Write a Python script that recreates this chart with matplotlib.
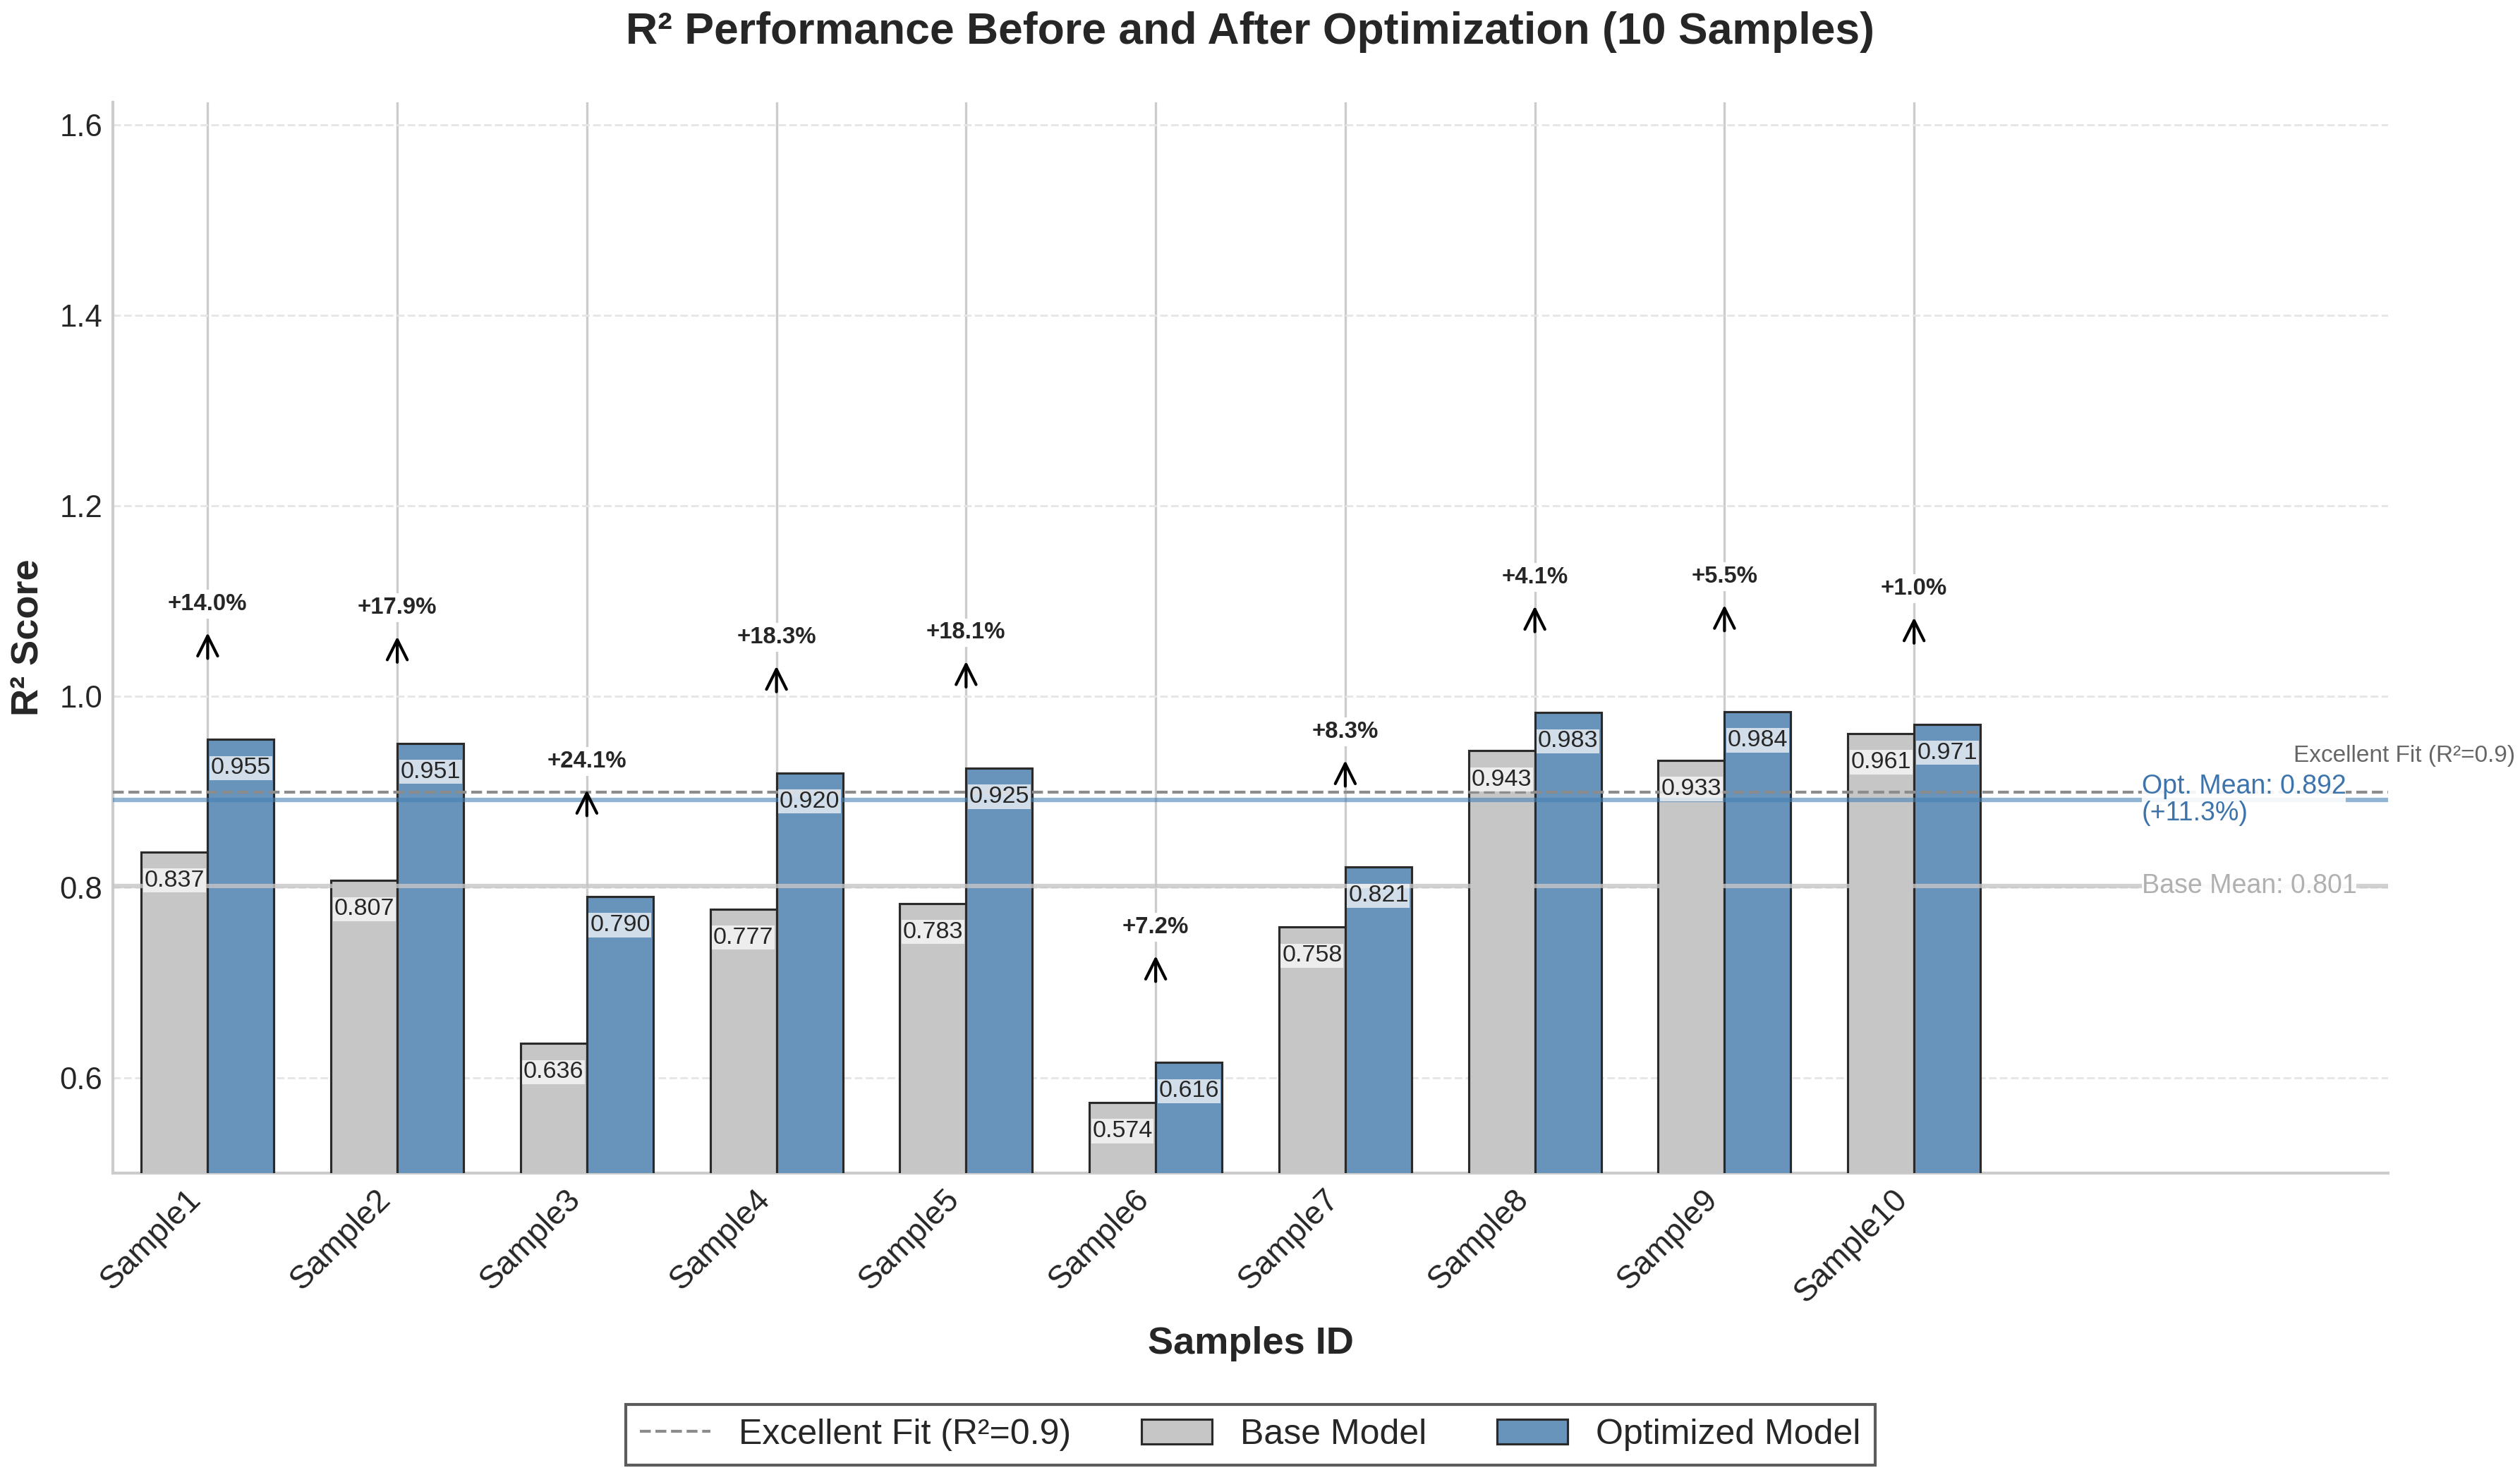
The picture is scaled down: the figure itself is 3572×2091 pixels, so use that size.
import matplotlib
matplotlib.use("Agg")
import matplotlib.pyplot as plt
import matplotlib.patches as mp
from matplotlib.lines import Line2D
import numpy as np

INK = "#262626"; GRID = "#cccccc"
BASE_C = "#c6c6c6"; OPT_C = "#6893bb"; EDGE = "#2a2a2a"
plt.rcParams.update({"font.family": ["Liberation Sans", "DejaVu Sans"],
                     "text.color": INK, "xtick.color": INK, "ytick.color": INK,
                     "axes.labelcolor": INK})

samples = ["Sample1", "Sample2", "Sample3", "Sample4", "Sample5",
           "Sample6", "Sample7", "Sample8", "Sample9", "Sample10"]
base_r2 = [0.837, 0.807, 0.636, 0.777, 0.783, 0.574, 0.758, 0.943, 0.933, 0.961]
opt_r2 = [0.955, 0.951, 0.790, 0.920, 0.925, 0.616, 0.821, 0.983, 0.984, 0.971]
improve_pct = [14.0, 17.9, 24.1, 18.3, 18.1, 7.2, 8.3, 4.1, 5.5, 1.0]
excellent = 0.9

base_mean = np.mean(base_r2)
opt_mean = np.mean(opt_r2)
mean_gain = (opt_mean / base_mean - 1) * 100

fig = plt.figure(figsize=(3572 / 300, 2091 / 300), dpi=300)
ax = fig.add_axes([0.04479, 0.2047, 0.90286, 0.72597])

x = np.arange(len(samples))
w = 0.35
ax.bar(x - w / 2, base_r2, w, color=BASE_C, edgecolor=EDGE, linewidth=0.75,
       label="Base Model", zorder=3)
ax.bar(x + w / 2, opt_r2, w, color=OPT_C, edgecolor=EDGE, linewidth=0.75,
       label="Optimized Model", zorder=3)

# value labels inside bar tops
for xi, b, o in zip(x, base_r2, opt_r2):
    for xx, v in ((xi - w / 2, b), (xi + w / 2, o)):
        ax.text(xx, v - 0.03, f"{v:.3f}", ha="center", va="center", fontsize=8.2,
                color=INK, zorder=5,
                bbox=dict(boxstyle="square,pad=0.05", fc="white", ec="none", alpha=0.7))

# improvement arrows
for xi, o, p in zip(x, opt_r2, improve_pct):
    ax.annotate("", xy=(xi, o + 0.112), xytext=(xi, o + 0.085),
                arrowprops=dict(arrowstyle="->", lw=1.0, color="black",
                                shrinkA=0, shrinkB=0, mutation_scale=17), zorder=5)
    ax.text(xi, o + 0.142, f"+{p:.1f}%", ha="center", va="center", fontsize=7.9,
            fontweight="bold", color=INK, zorder=5,
            bbox=dict(boxstyle="square,pad=0.15", fc="white", ec="none"))

# reference + mean lines
ax.axhline(excellent, color="#8c8c8c", ls="--", lw=1.0, zorder=4,
           label="Excellent Fit (R²=0.9)")
ax.axhline(opt_mean, color="#4682B4", alpha=0.6, lw=1.5, zorder=4)
ax.axhline(base_mean, color=BASE_C, alpha=0.8, lw=1.5, zorder=4)
ax.text(len(samples) + 0.2, opt_mean, f"Opt. Mean: {opt_mean:.3f}\n(+{mean_gain:.1f}%)",
        ha="left", va="center", fontsize=9, color="#3d74ab", linespacing=1.1, zorder=6,
        bbox=dict(boxstyle="square,pad=0", fc="white", ec="none", alpha=0.9))
ax.text(len(samples) + 0.2, base_mean, f"Base Mean: {base_mean:.3f}",
        ha="left", va="center", fontsize=9, color="#b0b0b0", zorder=6,
        bbox=dict(boxstyle="square,pad=0", fc="white", ec="none", alpha=0.9))
ax.text(len(samples) + 1.0, 0.938, "Excellent Fit (R²=0.9)", ha="left", va="center",
        fontsize=8, color="#666666", clip_on=False)

ax.set_xlim(-0.5, 11.5)
ax.set_ylim(0.5, max(opt_r2) * 1.65)
ax.set_xticks(x)
ax.set_xticklabels(samples, rotation=45, ha="right", fontsize=11)
ax.set_yticks([0.6, 0.8, 1.0, 1.2, 1.4, 1.6])
ax.set_yticklabels(["0.6", "0.8", "1.0", "1.2", "1.4", "1.6"], fontsize=10.5)
ax.tick_params(length=0, pad=3.5)

ax.grid(axis="x", color=GRID, lw=0.8, zorder=0)
ax.grid(axis="y", color="#e6e6e6", lw=0.7, ls="--", zorder=0)
ax.set_axisbelow(True)
for s in ["top", "right"]:
    ax.spines[s].set_visible(False)
for s in ["left", "bottom"]:
    ax.spines[s].set_color(GRID); ax.spines[s].set_linewidth(1.0)

ax.set_title("R² Performance Before and After Optimization (10 Samples)",
             fontsize=15, fontweight="bold", pad=20)
ax.set_ylabel("R² Score", fontsize=13, fontweight="bold", labelpad=4.5)
ax.set_xlabel("Samples ID", fontsize=13, fontweight="bold", labelpad=6)

handles = [Line2D([0], [0], color="#8c8c8c", ls="--", lw=1.0),
           mp.Patch(fc=BASE_C, ec=EDGE, lw=0.75),
           mp.Patch(fc=OPT_C, ec=EDGE, lw=0.75)]
labels = ["Excellent Fit (R²=0.9)", "Base Model", "Optimized Model"]
leg = ax.legend(handles, labels, loc="upper center", bbox_to_anchor=(0.5, -0.216),
                ncol=3, fontsize=12, frameon=True, fancybox=False, borderaxespad=0)
leg.get_frame().set_edgecolor("#333333")
leg.get_frame().set_linewidth(1.0)

fig.savefig("out.png", dpi=300, facecolor="white")
